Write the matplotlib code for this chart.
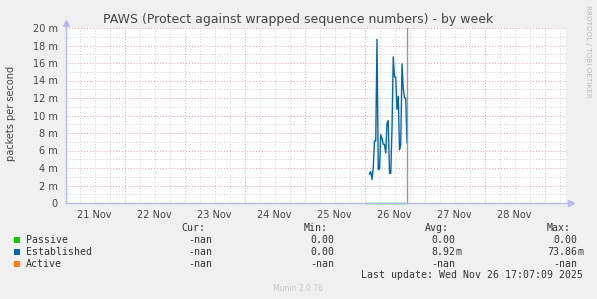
import numpy as np
import matplotlib
matplotlib.use("Agg")
import matplotlib.pyplot as plt
from matplotlib.lines import Line2D

# ---------------- data ----------------
title = "PAWS (Protect against wrapped sequence numbers) - by week"
ylabel = "packets per second"
day_labels = ["21 Nov", "22 Nov", "23 Nov", "24 Nov", "25 Nov", "26 Nov", "27 Nov", "28 Nov"]
# time axis in hours since 21 Nov 00:00
x_start_h = 0.6
x_end_h = 200.6
now_h = 137.12          # Wed Nov 26 17:07:09
step_h = 0.5            # 30 minute resolution

# Established (milli packets / s), 30-min samples from 26 Nov 02:00
est_start_h = 122.0
established = [3.3, 3.6, 2.7, 4.0, 7.1, 7.1, 18.7, 3.8, 3.9, 7.8,
               7.4, 6.7, 6.7, 5.7, 9.1, 9.4, 3.4, 3.4, 8.5, 16.7,
               14.4, 14.4, 10.7, 12.2, 6.1, 6.7, 15.9, 13.1, 12.0, 12.0,
               6.9]
# Passive: zeros from 26 Nov 00:30 to 17:00
pas_start_h = 120.5
passive = [0.0] * 34

yticks = [0, 2, 4, 6, 8, 10, 12, 14, 16, 18, 20]
ytick_labels = ["0", "2 m", "4 m", "6 m", "8 m", "10 m", "12 m", "14 m", "16 m", "18 m", "20 m"]

series_names = ["Passive", "Established", "Active"]
series_colors = ["#00CC00", "#0066B3", "#FF8000"]
cur_vals = ["-nan", "-nan", "-nan"]
min_vals = ["0.00", "0.00", "-nan"]
avg_vals = ["0.00", "8.92", "-nan"]
avg_sfx = ["", "m", ""]
max_vals = ["0.00", "73.86", "-nan"]
max_sfx = ["", "m", ""]
last_update = "Last update: Wed Nov 26 17:07:09 2025"
version = "Munin 2.0.76"
watermark = "RRDTOOL / TOBI OETIKER"

# ---------------- figure ----------------
W, H = 597, 299
fig = plt.figure(figsize=(W / 100, H / 100), dpi=100, facecolor="#F0F0F0")

def fx(x):
    return x / W

def fy(y):
    return 1 - y / H

L, R, T, B = 66, 566, 28, 203
ax = fig.add_axes([fx(L), fy(B), (R - L) / W, (B - T) / H])
ax.set_facecolor("#FFFFFF")
ax.set_xlim(x_start_h, x_end_h)
ax.set_ylim(0, 20)
for s in ax.spines.values():
    s.set_visible(False)

grid_major = "#E9A0A0"
grid_minor = "#CFCFCF"
dot = (0, (1, 2))
# horizontal grid
for v in range(1, 21):
    c = grid_major if v % 2 == 0 else grid_minor
    ax.axhline(v, color=c, lw=0.7, ls=dot, zorder=1)
# vertical grid: 6-hour minor, daily major
for h in np.arange(6, x_end_h, 6):
    if h % 24 == 0:
        ax.axvline(h, color=grid_major, lw=0.7, ls=dot, zorder=1)
    else:
        ax.axvline(h, color=grid_minor, lw=0.7, ls=dot, zorder=1)

# series
px_t = pas_start_h + step_h * np.arange(len(passive))
ax.plot(px_t, passive, color=series_colors[0], lw=1.0, zorder=3, clip_on=False)
est_t = est_start_h + step_h * np.arange(len(established))
ax.plot(est_t, established, color=series_colors[1], lw=1.0, zorder=4)
ax.axvline(now_h, color="#999999", lw=1.0, zorder=5)

# ticks
ax.set_yticks(yticks)
ax.set_yticklabels(ytick_labels)
ax.set_xticks([12 + 24 * i for i in range(len(day_labels))])
ax.set_xticklabels(day_labels)
ax.tick_params(axis="both", length=0, labelsize=7, colors="#444444")
ax.tick_params(axis="y", pad=6)
ax.tick_params(axis="x", pad=5)

# axis lines with arrows
axc = "#B8B8F0"
fig.add_artist(Line2D([fx(L), fx(L)], [fy(B), fy(24)], color=axc, lw=1.0))
fig.add_artist(Line2D([fx(L), fx(569)], [fy(B), fy(B)], color=axc, lw=1.0))
fig.add_artist(Line2D([fx(L)], [fy(23)], marker="^", ms=4, color=axc, lw=0))
fig.add_artist(Line2D([fx(571)], [fy(B)], marker=">", ms=4, color=axc, lw=0))

# title and labels
fig.text(fx(298.5), fy(19), title, ha="center", va="center", fontsize=9, color="#444444")
fig.text(fx(11.5), fy(113), ylabel, ha="center", va="center", rotation=90, fontsize=7, color="#444444")
fig.text(fx(588), fy(5), watermark, ha="center", va="top", rotation=270, fontsize=5.2, color="#BBBBBB")

# legend
mono = "DejaVu Sans Mono"
fs = 7.1
tc = "#333333"
hdr_y = 228
fig.text(fx(205.6), fy(hdr_y), "Cur:", ha="right", va="center", family=mono, fontsize=fs, color=tc)
fig.text(fx(328), fy(hdr_y), "Min:", ha="right", va="center", family=mono, fontsize=fs, color=tc)
fig.text(fx(449), fy(hdr_y), "Avg:", ha="right", va="center", family=mono, fontsize=fs, color=tc)
fig.text(fx(570.5), fy(hdr_y), "Max:", ha="right", va="center", family=mono, fontsize=fs, color=tc)
row_y = [240, 252, 263.7]
for i, name in enumerate(series_names):
    y = row_y[i]
    fig.patches.append(plt.Rectangle((fx(14), fy(y + 3)), 6 / W, 6 / H, transform=fig.transFigure,
                                     facecolor=series_colors[i], edgecolor="none"))
    fig.text(fx(26), fy(y), name, ha="left", va="center", family=mono, fontsize=fs, color=tc)
    fig.text(fx(212.5), fy(y), cur_vals[i], ha="right", va="center", family=mono, fontsize=fs, color=tc)
    fig.text(fx(334), fy(y), min_vals[i], ha="right", va="center", family=mono, fontsize=fs, color=tc)
    fig.text(fx(455), fy(y), avg_vals[i], ha="right", va="center", family=mono, fontsize=fs, color=tc)
    if avg_sfx[i]:
        fig.text(fx(455), fy(y), avg_sfx[i], ha="left", va="center", family=mono, fontsize=fs, color=tc)
    fig.text(fx(577), fy(y), max_vals[i], ha="right", va="center", family=mono, fontsize=fs, color=tc)
    if max_sfx[i]:
        fig.text(fx(577), fy(y), max_sfx[i], ha="left", va="center", family=mono, fontsize=fs, color=tc)
fig.text(fx(583), fy(275.3), last_update, ha="right", va="center", family=mono, fontsize=fs, color=tc)
fig.text(fx(298), fy(288.3), version, ha="center", va="center", fontsize=5.5, color="#C4C4C4")

fig.savefig("out.png", dpi=100, facecolor=fig.get_facecolor())
